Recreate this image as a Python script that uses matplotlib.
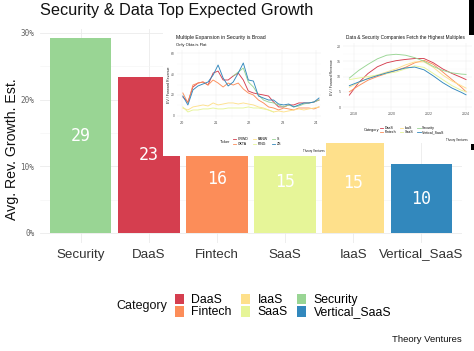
import numpy as np
import pandas as pd
import matplotlib
matplotlib.use("Agg")
import matplotlib.pyplot as plt
from matplotlib.patches import Patch, Rectangle
from matplotlib.lines import Line2D

# ---------------- data ----------------
categories = ["Security", "DaaS", "Fintech", "SaaS", "IaaS", "Vertical_SaaS"]
growth = [29.2, 23.4, 16.1, 15.2, 14.9, 10.3]
legend_order = ["DaaS", "Fintech", "IaaS", "SaaS", "Security", "Vertical_SaaS"]
palette = {"DaaS": "#d53e4f", "Fintech": "#fc8d59", "IaaS": "#fee08b",
           "SaaS": "#e6f598", "Security": "#99d594", "Vertical_SaaS": "#3288bd"}
y_ticks = [0, 10, 20, 30]
y_tick_labels = ["0%", "10%", "20%", "30%"]

# inset 1: security tickers EV / forward revenue
tickers = ["CRWD", "OKTA", "PANW", "PING", "S", "ZS"]
ticker_colors = ["#d53e4f", "#fc8d59", "#fee08b", "#e6f598", "#99d594", "#3288bd"]
ticker_dates = pd.date_range("2020-01-10", periods=28, freq="55D")
nan = np.nan
crwd = [18.1, 13.3, 27.6, 31.4, 32.4, 29.5, 40.9, 42.8, 34.3, 34.3, 38.1, 40.9, 34.3, 23.8,
        21.9, 20.9, 20.0, 19.0, 13.3, 8.6, 8.6, 10.5, 10.5, 12.4, 12.4, 12.4, 13.3, 15.2]
okta = [21.9, 12.4, 29.5, 31.4, 32.4, 29.5, 34.3, 31.4, 27.6, 31.4, 29.5, 31.4, 25.7, 21.9,
        20.0, 15.2, 12.4, 8.6, 7.6, 5.7, 7.6, 6.7, 5.7, 7.6, 7.6, 7.6, 6.7, 8.6]
panw = [7.6, 5.7, 8.6, 9.5, 10.5, 9.5, 12.4, 10.5, 11.4, 12.4, 12.4, 11.4, 12.4, 11.4,
        10.5, 8.6, 7.6, 5.7, 3.8, 4.8, 3.8, 4.8, 5.7, 6.7, 5.7, 6.7, 7.6, 8.6]
ping = [8.6, 3.8, 5.7, 5.7, 6.7, 6.7, 7.6, 6.7, 6.7, 7.6, 7.6, 7.6, 7.6, 8.6,
        7.6, 7.6, 6.7, 5.7, 3.8, nan, nan, nan, nan, nan, nan, nan, nan, nan]
s_tk = [nan, nan, nan, nan, nan, nan, nan, nan, nan, nan, 38.1, 41.9, 45.7, 32.4,
        27.6, 20.0, 15.2, 13.3, 12.4, 10.5, 8.6, 10.5, 8.6, 9.5, 11.4, 12.4, 13.3, 15.2]
zs = [19.0, 10.5, 24.8, 28.6, 30.5, 32.4, 39.0, 48.6, 36.2, 28.6, 32.4, 40.9, 50.5, 34.3,
      33.3, 19.0, 17.1, 15.2, 15.2, 11.4, 10.5, 11.4, 8.6, 10.5, 12.4, 12.4, 13.3, 17.1]
ticker_series = [crwd, okta, panw, ping, s_tk, zs]

# inset 2: smoothed category multiples
cat_years = [2017.75, 2018.25, 2018.75, 2019.25, 2019.75, 2020.25, 2020.75,
             2021.25, 2021.75, 2022.25, 2022.75, 2023.25, 2023.75, 2024.0]
cat_daas = [3.9, 8.0, 11.0, 13.2, 14.5, 15.2, 15.6, 15.9, 15.9, 14.5, 12.5, 11.0, 9.7, 9.0]
cat_fintech = [5.0, 7.0, 8.8, 10.0, 11.0, 12.0, 13.0, 14.5, 15.3, 14.0, 11.5, 9.0, 6.5, 5.0]
cat_iaas = [6.5, 8.0, 9.5, 10.5, 11.5, 12.5, 13.8, 14.8, 14.8, 13.0, 10.5, 8.5, 7.0, 6.2]
cat_saas = [9.0, 9.5, 10.0, 10.5, 11.0, 11.5, 12.5, 13.5, 13.0, 11.0, 9.0, 7.0, 5.5, 5.0]
cat_security = [9.5, 12.0, 14.0, 15.8, 17.0, 17.3, 17.0, 16.2, 15.0, 13.3, 12.0, 11.2, 10.8, 10.7]
cat_vertical = [7.0, 8.2, 9.3, 10.3, 11.2, 12.0, 12.8, 13.1, 12.2, 10.2, 8.0, 6.2, 4.8, 4.0]
cat_series = {"DaaS": cat_daas, "Fintech": cat_fintech, "IaaS": cat_iaas,
              "SaaS": cat_saas, "Security": cat_security, "Vertical_SaaS": cat_vertical}

# ---------------- layout helpers ----------------
W, H = 474, 351
fig = plt.figure(figsize=(W / 100, H / 100), dpi=100)
plt.rcParams["font.family"] = ["Liberation Sans", "DejaVu Sans"]


def px(l, t, r, b):
    return [l / W, 1 - b / H, (r - l) / W, (b - t) / H]


def fx(x):
    return x / W


def fy(y):
    return 1 - y / H


GRID = "#ebebeb"

# ---------------- main bar chart ----------------
ax = fig.add_axes(px(40, 29, 462, 243))
xpos = np.arange(len(categories))
ax.bar(xpos, growth, width=0.9, color=[palette[c] for c in categories], zorder=2)
for xi, v in zip(xpos, growth):
    ax.text(xi, v / 2, f"{v:.0f}", ha="center", va="center", color="white",
            fontsize=12, family="DejaVu Sans Mono", zorder=3)
ax.set_xlim(-0.6, len(categories) - 0.4)
ax.set_ylim(-1.5, 30.6)
ax.set_xticks(xpos)
ax.set_xticklabels(categories, fontsize=9.6, color="#333333")
ax.set_yticks(y_ticks)
ax.set_yticklabels(y_tick_labels, fontsize=5.5, color="#666666", family="DejaVu Sans Mono")
ax.set_yticks([5, 15, 25], minor=True)
ax.tick_params(axis="both", length=0, which="both")
ax.tick_params(axis="x", pad=4)
ax.tick_params(axis="y", pad=4)
ax.grid(True, which="major", color=GRID, lw=0.6, zorder=0)
ax.grid(True, which="minor", axis="y", color="#f4f4f4", lw=0.4, zorder=0)
for s in ax.spines.values():
    s.set_visible(False)
ax.set_axisbelow(True)

fig.text(fx(12), fy(149), "Avg. Rev. Growth. Est.", rotation=90, ha="center", va="center",
         fontsize=10.2, color="#111111")
fig.text(fx(40), fy(11), "Security & Data Top Expected Growth", ha="left", va="center",
         fontsize=11.7, color="#111111")

# legend
handles = [Patch(facecolor=palette[c], edgecolor="none") for c in legend_order]
fig.legend(handles, legend_order, ncol=3, loc="center left",
           bbox_to_anchor=(fx(175), fy(306)), frameon=False, fontsize=8.8,
           handlelength=0.75, handleheight=0.95, handletextpad=0.6,
           columnspacing=0.75, labelspacing=0.0, borderpad=0, borderaxespad=0)
fig.text(fx(142), fy(306), "Category", ha="center", va="center", fontsize=9, color="#111111")
fig.text(fx(462), fy(340), "Theory Ventures", ha="right", va="center", fontsize=6.8,
         color="#111111")

# ---------------- inset 1 ----------------
bg1 = fig.add_axes(px(163, 28, 326, 156))
bg1.set_xticks([]); bg1.set_yticks([])
for s in bg1.spines.values():
    s.set_visible(False)

a1 = fig.add_axes(px(177, 50, 321, 119))
t_years = ticker_dates.year + (ticker_dates.dayofyear - 1) / 365.25
for name, col, vals in zip(tickers, ticker_colors, ticker_series):
    a1.plot(t_years, vals, color=col, lw=0.65)
a1.set_xlim(2019.85, 2024.15)
a1.set_ylim(-2.9, 62.9)
a1.set_xticks([2020, 2021, 2022, 2023, 2024])
a1.set_xticklabels(["20", "21", "22", "23", "24"], fontsize=2.8, color="#555555")
a1.set_yticks([0, 20, 40, 60])
a1.set_yticklabels(["0", "20", "40", "60"], fontsize=2.4, color="#555555")
a1.set_xticks([2020.5, 2021.5, 2022.5, 2023.5], minor=True)
a1.set_yticks([10, 30, 50], minor=True)
a1.tick_params(which="both", length=0, pad=1.5)
a1.grid(True, which="major", color=GRID, lw=0.35)
a1.grid(True, which="minor", color="#f4f4f4", lw=0.25)
for s in a1.spines.values():
    s.set_visible(False)
fig.text(fx(169), fy(85), "EV / Forward Revenue", rotation=90, ha="center", va="center",
         fontsize=2.6, color="#222222")
fig.text(fx(176), fy(37), "Multiple Expansion in Security is Broad", ha="left", va="center",
         fontsize=3.7, color="#111111")
fig.text(fx(176), fy(45), "Only Okta is Flat", ha="left", va="center",
         fontsize=3.0, color="#111111")
h1 = [Line2D([0], [0], color=c, lw=0.6) for c in ticker_colors]
fig.legend(h1, tickers, ncol=3, loc="center left", bbox_to_anchor=(fx(233), fy(141.5)),
           frameon=False, fontsize=2.5, handlelength=1.0, handletextpad=0.4,
           columnspacing=1.2, labelspacing=0.15, borderpad=0, borderaxespad=0)
fig.text(fx(225), fy(141.5), "Ticker", ha="center", va="center", fontsize=2.8, color="#111111")
fig.text(fx(325), fy(151), "Theory Ventures", ha="right", va="center", fontsize=2.1,
         color="#111111")

# ---------------- inset 2 ----------------
bg2 = fig.add_axes(px(322, 27, 474, 143))
bg2.set_xticks([]); bg2.set_yticks([])
for s in bg2.spines.values():
    s.set_visible(False)

a2 = fig.add_axes(px(343, 43, 472, 110))
for c in legend_order:
    a2.plot(cat_years, cat_series[c], color=palette[c], lw=0.65)
a2.set_xlim(2017.41, 2024.32)
a2.set_ylim(-0.98, 21.0)
a2.set_xticks([2018, 2020, 2022, 2024])
a2.set_xticklabels(["2018", "2020", "2022", "2024"], fontsize=2.6, color="#555555")
a2.set_yticks([0, 5, 10, 15, 20])
a2.set_yticklabels(["0", "5", "10", "15", "20"], fontsize=2.6, color="#555555")
a2.set_xticks([2019, 2021, 2023], minor=True)
a2.set_yticks([2.5, 7.5, 12.5, 17.5], minor=True)
a2.tick_params(which="both", length=0, pad=1.5)
a2.grid(True, which="major", color=GRID, lw=0.35)
a2.grid(True, which="minor", color="#f4f4f4", lw=0.25)
for s in a2.spines.values():
    s.set_visible(False)
fig.text(fx(332), fy(77), "EV / Forward Revenue", rotation=90, ha="center", va="center",
         fontsize=2.5, color="#222222")
fig.text(fx(405), fy(37), "Data & Security Companies Fetch the Highest Multiples",
         ha="center", va="center", fontsize=3.4, color="#111111")
h2 = [Line2D([0], [0], color=palette[c], lw=0.6) for c in legend_order]
fig.legend(h2, legend_order, ncol=3, loc="center left", bbox_to_anchor=(fx(380), fy(130)),
           frameon=False, fontsize=2.5, handlelength=1.0, handletextpad=0.4,
           columnspacing=1.0, labelspacing=0.15, borderpad=0, borderaxespad=0)
fig.text(fx(372), fy(130), "Category", ha="center", va="center", fontsize=2.8, color="#111111")
fig.text(fx(468), fy(140), "Theory Ventures", ha="right", va="center", fontsize=2.1,
         color="#111111")

# black edge marks at the right border
fig.patches.append(Rectangle((fx(469), fy(35)), fx(5), 35 / H, transform=fig.transFigure,
                             facecolor="black", edgecolor="none", zorder=10))
fig.patches.append(Rectangle((fx(471), fy(150)), fx(3), 6 / H, transform=fig.transFigure,
                             facecolor="black", edgecolor="none", zorder=10))

fig.savefig("out.png", dpi=100)
